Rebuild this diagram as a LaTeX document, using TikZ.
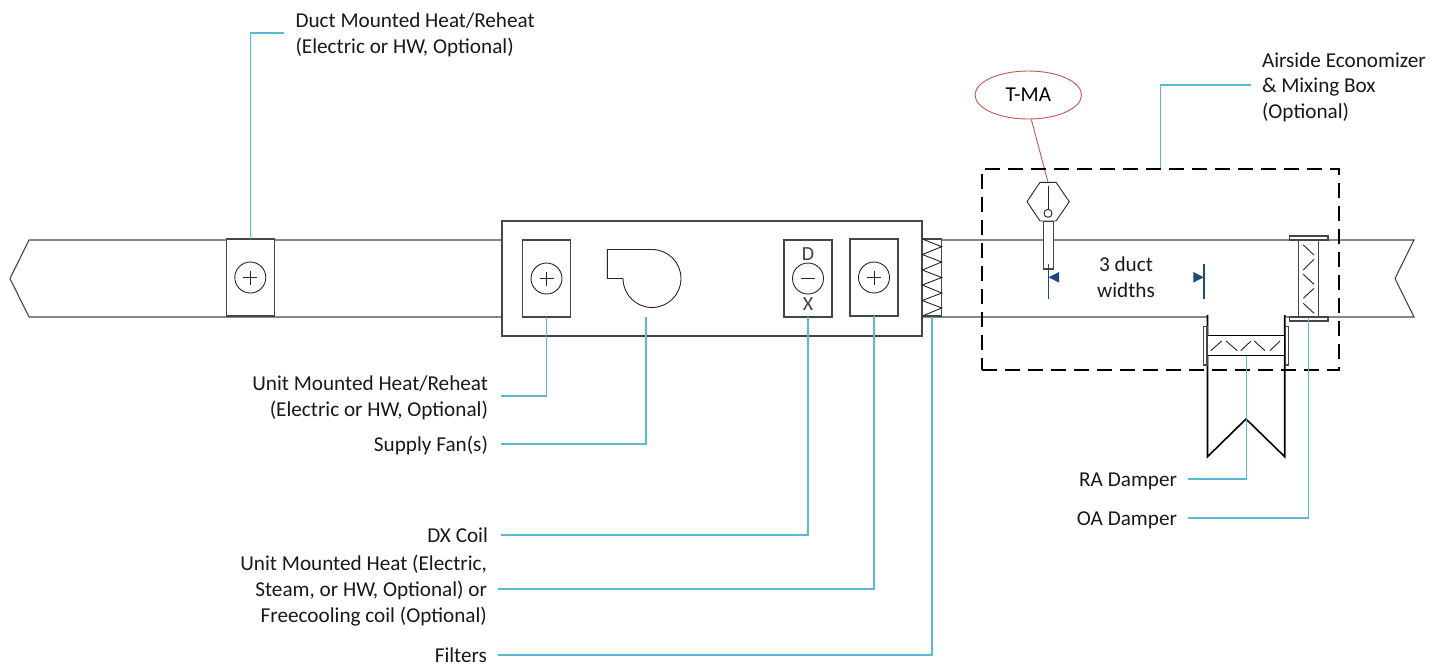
\documentclass[tikz,border=0pt]{standalone}
\usepackage{fontspec}
\setmainfont{Carlito}
\usetikzlibrary{shapes.geometric}
\definecolor{duct}{RGB}{70,70,70}
\definecolor{leadcol}{RGB}{90,185,212}
\definecolor{sensred}{RGB}{200,85,75}
\definecolor{dimblue}{RGB}{31,73,125}
\tikzset{
    ductline/.style={draw=duct, line width=1.1pt},
    thinline/.style={draw=black!85, line width=0.9pt},
    coilbox/.style={ductline, fill=white, minimum width=48pt, minimum height=77pt, inner sep=0pt, outer sep=0pt},
    dialcircle/.style={circle, thinline, minimum size=31pt, inner sep=0pt},
    leader/.style={draw=leadcol, line width=1.1pt},
    labelright/.style={inner sep=0pt, outer xsep=13pt, align=right, anchor=east, text=black!90},
    labelleft/.style={inner sep=0pt, outer xsep=11.5pt, align=left, anchor=west, text=black!90}
}
\begin{document}
\begin{tikzpicture}[x=1pt, y=1pt, font=\fontsize{21.2}{25.6}\selectfont]
    \useasboundingbox (0,0) rectangle (1442,-665);

    % duct
    \draw[ductline] (502,-240) -- (29,-240) -- (10,-278.5) -- (29,-317) -- (502,-317);
    \draw[ductline] (1207.5,-317) -- (922,-317) -- (922,-240) -- (1414,-240) -- (1395,-278.5) -- (1414,-317) -- (1285,-317);

    % duct mounted coil
    \node[coilbox] (ductcoil) at (250.3,-277.5) {};
    \node[dialcircle] (ductdial) at (ductcoil.center) {};
    \draw[thinline] ([xshift=-7pt]ductdial.center) -- ([xshift=7pt]ductdial.center);
    \draw[thinline] ([yshift=-7pt]ductdial.center) -- ([yshift=7pt]ductdial.center);

    % unit
    \node[ductline, fill=white, minimum width=420pt, minimum height=115pt, inner sep=0pt] (unit) at (712,-278.5) {};
    \node[coilbox] (heatcoil) at (546.5,-278.5) {};
    \node[dialcircle] (heatdial) at (heatcoil.center) {};
    \draw[thinline] ([xshift=-7pt]heatdial.center) -- ([xshift=7pt]heatdial.center);
    \draw[thinline] ([yshift=-7pt]heatdial.center) -- ([yshift=7pt]heatdial.center);

    \draw[thinline] (607.3,-249.5) -- (652,-249.5) arc[start angle=90, end angle=-180, radius=29] -- (607.3,-278.5) -- cycle;
    \coordinate (fanfoot) at (646,-317);

    \node[coilbox] (dxcoil) at (808,-278.5) {};
    \node[dialcircle] (dxdial) at (dxcoil.center) {};
    \draw[thinline] ([xshift=-7pt]dxdial.center) -- ([xshift=7pt]dxdial.center);
    \node[inner sep=0pt, text=black!75, font=\fontsize{20}{20}\selectfont] (dxtop) at (808,-254) {D};
    \node[inner sep=0pt, text=black!75, font=\fontsize{20}{20}\selectfont] (dxbot) at (808,-304) {X};

    \node[coilbox] (steamcoil) at (874,-277.5) {};
    \node[dialcircle] (steamdial) at (steamcoil.center) {};
    \draw[thinline] ([xshift=-7pt]steamdial.center) -- ([xshift=7pt]steamdial.center);
    \draw[thinline] ([yshift=-7pt]steamdial.center) -- ([yshift=7pt]steamdial.center);

    % filter bank
    \node[ductline, fill=white, minimum width=19.5pt, minimum height=77pt, inner sep=0pt] (filters) at (932,-277.5) {};
    \draw[thinline] (922.3,-239) -- (941.7,-246.7) -- (922.3,-254.5) -- (941.7,-262) -- (922.3,-270) -- (941.7,-277.5) -- (922.3,-285) -- (941.7,-293) -- (922.3,-300.5) -- (941.7,-308) -- (922.3,-316);

    % return duct
    \draw[draw=black, line width=1.6pt] (1207.5,-315) -- (1207.5,-456.7) -- (1246,-419) -- (1284.7,-456.7) -- (1284.7,-315);

    % RA damper
    \node[draw=black, line width=1.1pt, fill=white, minimum width=77.2pt, minimum height=19.5pt, inner sep=0pt] (radamper) at (1246.1,-345.5) {};
    \foreach \xa/\ya/\xb/\yb in {1210.7/350.7/1221.7/341, 1226/341/1237.3/350.7, 1240.7/350.7/1251/341, 1254.3/341/1265/350.7, 1270/350.7/1280/341}
        \draw[thinline] (\xa,-\ya) -- (\xb,-\yb);
    \draw[ductline, fill=white] (1203.7,-326.7) rectangle (1207,-365);
    \draw[ductline, fill=white] (1285.2,-326.7) rectangle (1288.5,-365);

    % OA damper
    \node[ductline, fill=white, minimum width=20pt, minimum height=77pt, inner sep=0pt] (oadamper) at (1308.7,-278.5) {};
    \foreach \xa/\ya/\xb/\yb in {1303.3/245/1314/255, 1314/259.3/1303.3/270, 1303.3/274.3/1314/284.3, 1314/288.3/1303.3/298.3, 1303.3/303.3/1314/313.3}
        \draw[thinline] (\xa,-\ya) -- (\xb,-\yb);
    \draw[ductline, fill=white] (1289.3,-236) rectangle (1328,-240);
    \draw[ductline, fill=white] (1289.3,-317) rectangle (1328,-321);

    % sensor
    \draw[ductline, fill=white] (1043.3,-221) rectangle (1053.3,-269);
    \draw[thinline, fill=white] (1040,-182.3) -- (1056,-182.3) -- (1069.3,-201.7) -- (1056,-221) -- (1040,-221) -- (1027,-201.7) -- cycle;
    \draw[thinline] (1048,-186) -- (1048,-209.3);
    \node[circle, thinline, minimum size=8pt, inner sep=0pt] (sensbulb) at (1048,-213.3) {};
    \coordinate (senstop) at (1048,-182.3);
    \node[ellipse, draw=sensred, line width=0.9pt, minimum width=106.5pt, minimum height=48pt, inner sep=0pt] (tma) at (1028.3,-95) {T-MA};
    \draw[draw=sensred, line width=0.9pt] (tma.-83) -- (senstop);

    % economizer box
    \node[draw=black, line width=1.9pt, dash pattern=on 15pt off 8pt, minimum width=357.3pt, minimum height=200.7pt, inner sep=0pt] (econbox) at (1160.65,-269.7) {};

    % duct widths
    \coordinate (dimleft) at (1048.3,-264);
    \coordinate (dimright) at (1204,-264);
    \draw[dimblue, line width=1.2pt] (dimleft) -- ++(0,-34.7);
    \draw[dimblue, line width=1.2pt] (dimright) -- ++(0,-34.7);
    \fill[dimblue] (1048.6,-277.3) -- (1059,-272) -- (1059,-282.6) -- cycle;
    \fill[dimblue] (1203.7,-277.3) -- (1193.3,-272) -- (1193.3,-282.6) -- cycle;
    \node[inner sep=0pt, align=center, text=black!90] (dimtext) at (1126,-277) {3 duct\\widths};

    % labels
    \node[labelleft] (ductlabel) at (284,-35) {Duct Mounted Heat/Reheat\\(Electric or HW, Optional)};
    \node[labelleft] (econlabel) at (1250.5,-87) {Airside Economizer\\\& Mixing Box\\(Optional)};
    \node[labelright] (heatlabel) at (501,-398) {Unit Mounted Heat/Reheat\\(Electric or HW, Optional)};
    \node[labelright] (fanlabel) at (501,-445) {Supply Fan(s)};
    \node[labelright] (dxlabel) at (501,-535) {DX Coil};
    \node[labelright, outer xsep=11pt] (steamlabel) at (498,-590.5) {Unit Mounted Heat (Electric,\\Steam, or HW, Optional) or~\\Freecooling coil (Optional)};
    \node[labelright, outer xsep=11pt] (filterlabel) at (498,-655) {Filters};
    \node[labelright, outer xsep=11pt] (ralabel) at (1188,-481) {RA Damper};
    \node[labelright, outer xsep=11pt] (oalabel) at (1188,-520) {OA Damper};

    % leaders
    \draw[leader] (ductcoil.north) |- ([yshift=2pt]ductlabel.west);
    \draw[leader] (econbox.north) |- ([yshift=2pt]econlabel.west);
    \draw[leader] (heatcoil.south) |- ([yshift=2pt]heatlabel.east);
    \draw[leader] (fanfoot) |- ([yshift=1pt]fanlabel.east);
    \draw[leader] (dxcoil.south) |- (dxlabel.east);
    \draw[leader] (steamcoil.south) |- ([yshift=1.5pt]steamlabel.east);
    \draw[leader] (filters.south) |- (filterlabel.east);
    \draw[leader] (radamper.south) |- ([yshift=2pt]ralabel.east);
    \draw[leader] (oadamper.south) |- ([yshift=2pt]oalabel.east);
\end{tikzpicture}
\end{document}
